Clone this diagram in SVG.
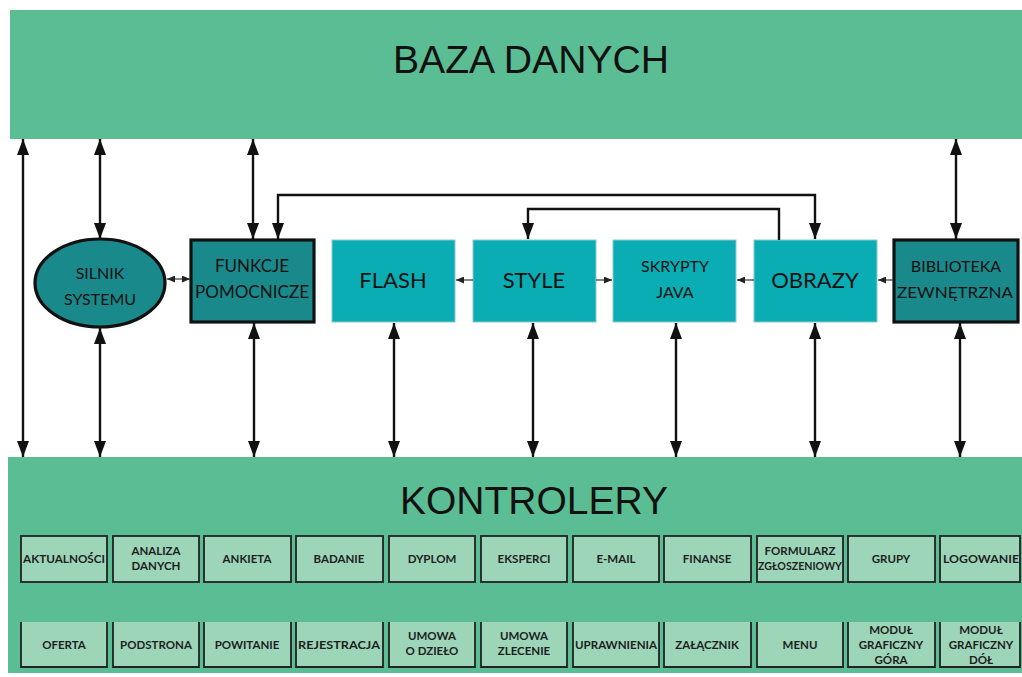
<svg xmlns="http://www.w3.org/2000/svg" width="1022" height="677" viewBox="0 0 1022 677">
  <style>
    .band { fill: #5bbd93; }
    .title { font-family: "Liberation Sans", Arial, sans-serif; font-size: 38px; fill: #111; text-anchor: middle; }
    .dark { fill: #1a898c; stroke: #111; stroke-width: 3.2; }
    .light { fill: #0badb5; stroke: #8cc9c9; stroke-width: 1; }
    .lbl { font-family: Lato, "Noto Sans", sans-serif; fill: #111; text-anchor: middle; }
    .big { font-size: 22px; }
    .mid { font-size: 16px; }
    .ctl rect { fill: #9dd5b9; stroke: #222; stroke-width: 1.8; }
    .ctl path.face { fill: #9dd5b9; stroke: none; }
    .ctl path.edge { fill: none; stroke: #222; stroke-width: 1.8; }
    .ctl text { font-family: Lato, "Noto Sans", sans-serif; font-weight: bold; font-size: 11.5px; fill: #1e1e1e; text-anchor: middle; }
    .wire { fill: none; stroke: #111; stroke-width: 2.4; }
    .thin { fill: none; stroke: #333; stroke-width: 1.2; }
  </style>
  <defs>
    <marker id="head" viewBox="0 0 16 12" refX="16" refY="6" markerWidth="16" markerHeight="12" markerUnits="userSpaceOnUse" orient="auto-start-reverse">
      <path d="M0,0 L16,6 L0,12 Z" fill="#111"/>
    </marker>
    <marker id="tip" viewBox="0 0 8 7" refX="8" refY="3.5" markerWidth="8" markerHeight="7" markerUnits="userSpaceOnUse" orient="auto-start-reverse">
      <path d="M0,0 L8,3.5 L0,7 Z" fill="#222"/>
    </marker>
  </defs>

  <rect width="1022" height="677" fill="#fff"/>

  <!-- database band -->
  <g id="baza-danych">
    <rect class="band" x="10" y="10" width="1012" height="129"/>
    <text class="title" x="531" y="73" textLength="276" lengthAdjust="spacingAndGlyphs">BAZA DANYCH</text>
  </g>

  <!-- controllers band -->
  <g id="kontrolery">
    <rect class="band" x="8" y="457" width="1014" height="216"/>
    <text class="title" x="534" y="514" textLength="268" lengthAdjust="spacingAndGlyphs">KONTROLERY</text>
  </g>

  <!-- middle row -->
  <g id="silnik-systemu">
    <ellipse class="dark" cx="100" cy="283" rx="65" ry="44"/>
    <text class="lbl mid" x="100" y="279">SILNIK</text>
    <text class="lbl mid" x="100" y="305">SYSTEMU</text>
  </g>
  <g id="funkcje-pomocnicze">
    <rect class="dark" x="191" y="240" width="123" height="82"/>
    <text class="lbl" font-size="17" x="252" y="272">FUNKCJE</text>
    <text class="lbl" font-size="17" x="252" y="298" textLength="114" lengthAdjust="spacingAndGlyphs">POMOCNICZE</text>
  </g>
  <g id="flash">
    <rect class="light" x="332" y="240" width="123" height="82"/>
    <text class="lbl big" x="393" y="288">FLASH</text>
  </g>
  <g id="style">
    <rect class="light" x="473" y="240" width="123" height="82"/>
    <text class="lbl big" x="534" y="288">STYLE</text>
  </g>
  <g id="skrypty-java">
    <rect class="light" x="613" y="240" width="123" height="82"/>
    <text class="lbl mid" x="675" y="272">SKRYPTY</text>
    <text class="lbl mid" x="675" y="298">JAVA</text>
  </g>
  <g id="obrazy">
    <rect class="light" x="754" y="240" width="123" height="82"/>
    <text class="lbl big" x="815" y="288">OBRAZY</text>
  </g>
  <g id="biblioteka-zewnetrzna">
    <rect class="dark" x="894" y="240" width="124" height="82"/>
    <text class="lbl" font-size="16" x="956" y="272">BIBLIOTEKA</text>
    <text class="lbl" font-size="16" x="955" y="298" textLength="116" lengthAdjust="spacingAndGlyphs">ZEWNĘTRZNA</text>
  </g>

  <!-- connectors -->
  <g id="connectors">
    <!-- database <-> controllers, direct -->
    <line class="wire" x1="23" y1="139" x2="23" y2="457" marker-start="url(#head)" marker-end="url(#head)"/>
    <!-- database <-> middle row -->
    <line class="wire" x1="100" y1="139" x2="100" y2="239" marker-start="url(#head)" marker-end="url(#head)"/>
    <line class="wire" x1="253" y1="139" x2="253" y2="239" marker-start="url(#head)" marker-end="url(#head)"/>
    <line class="wire" x1="956" y1="139" x2="956" y2="239" marker-start="url(#head)" marker-end="url(#head)"/>
    <!-- middle row <-> controllers -->
    <line class="wire" x1="100" y1="328" x2="100" y2="457" marker-start="url(#head)" marker-end="url(#head)"/>
    <line class="wire" x1="254" y1="323" x2="254" y2="457" marker-start="url(#head)" marker-end="url(#head)"/>
    <line class="wire" x1="394" y1="323" x2="394" y2="457" marker-start="url(#head)" marker-end="url(#head)"/>
    <line class="wire" x1="533" y1="323" x2="533" y2="457" marker-start="url(#head)" marker-end="url(#head)"/>
    <line class="wire" x1="676" y1="323" x2="676" y2="457" marker-start="url(#head)" marker-end="url(#head)"/>
    <line class="wire" x1="815" y1="323" x2="815" y2="457" marker-start="url(#head)" marker-end="url(#head)"/>
    <line class="wire" x1="960" y1="323" x2="960" y2="457" marker-start="url(#head)" marker-end="url(#head)"/>
    <!-- FUNKCJE <-> OBRAZY over the top -->
    <path class="wire" d="M278,239 V195 H815 V239" marker-start="url(#head)" marker-end="url(#head)"/>
    <!-- OBRAZY -> STYLE -->
    <path class="wire" d="M779,240 V209 H528 V239" marker-end="url(#head)"/>
    <!-- row links -->
    <line class="thin" x1="167" y1="279" x2="190" y2="279" marker-start="url(#tip)" marker-end="url(#tip)"/>
    <line class="thin" x1="473" y1="280" x2="456" y2="280" marker-end="url(#tip)"/>
    <line class="thin" x1="596" y1="280" x2="612" y2="280" marker-end="url(#tip)"/>
    <line class="thin" x1="754" y1="280" x2="737" y2="280" marker-end="url(#tip)"/>
    <line class="thin" x1="893" y1="280" x2="878" y2="280" marker-end="url(#tip)"/>
  </g>

  <!-- controller modules, upper row -->
  <g class="ctl">
    <g id="aktualnosci"><rect x="21" y="536" width="86" height="46"/><text x="64" y="563" textLength="82" lengthAdjust="spacingAndGlyphs">AKTUALNOŚCI</text></g>
    <g id="analiza-danych"><rect x="113" y="536" width="86" height="46"/><text x="156" y="555">ANALIZA</text><text x="156" y="570">DANYCH</text></g>
    <g id="ankieta"><rect x="204" y="536" width="87" height="46"/><text x="247" y="563">ANKIETA</text></g>
    <g id="badanie"><rect x="296" y="536" width="87" height="46"/><text x="339" y="563">BADANIE</text></g>
    <g id="dyplom"><rect x="389" y="536" width="86" height="46"/><text x="432" y="563">DYPLOM</text></g>
    <g id="eksperci"><rect x="481" y="536" width="86" height="46"/><text x="524" y="563">EKSPERCI</text></g>
    <g id="e-mail"><rect x="573" y="536" width="86" height="46"/><text x="616" y="563">E-MAIL</text></g>
    <g id="finanse"><rect x="664" y="536" width="87" height="46"/><text x="707" y="563">FINANSE</text></g>
    <g id="formularz"><rect x="757" y="536" width="86" height="46"/><text x="800" y="555">FORMULARZ</text><text x="800" y="570" textLength="84" lengthAdjust="spacingAndGlyphs">ZGŁOSZENIOWY</text></g>
    <g id="grupy"><rect x="848" y="536" width="87" height="46"/><text x="891" y="563">GRUPY</text></g>
    <g id="logowanie"><rect x="940" y="536" width="80" height="46"/><text x="981" y="563" textLength="76" lengthAdjust="spacingAndGlyphs">LOGOWANIE</text></g>
  </g>

  <!-- controller modules, lower row (open at the top) -->
  <g class="ctl">
    <g id="oferta"><path class="face" d="M21,622 V667 H107 V622 Z"/><path class="edge" d="M21,622 V667 H107 V622"/><text x="64" y="649">OFERTA</text></g>
    <g id="podstrona"><path class="face" d="M113,622 V667 H199 V622 Z"/><path class="edge" d="M113,622 V667 H199 V622"/><text x="156" y="649">PODSTRONA</text></g>
    <g id="powitanie"><path class="face" d="M204,622 V667 H291 V622 Z"/><path class="edge" d="M204,622 V667 H291 V622"/><text x="247" y="649">POWITANIE</text></g>
    <g id="rejestracja"><path class="face" d="M296,622 V667 H383 V622 Z"/><path class="edge" d="M296,622 V667 H383 V622"/><text x="339" y="649" textLength="82" lengthAdjust="spacingAndGlyphs">REJESTRACJA</text></g>
    <g id="umowa-o-dzielo"><path class="face" d="M389,622 V667 H475 V622 Z"/><path class="edge" d="M389,622 V667 H475 V622"/><text x="432" y="640">UMOWA</text><text x="432" y="655">O DZIEŁO</text></g>
    <g id="umowa-zlecenie"><path class="face" d="M481,622 V667 H567 V622 Z"/><path class="edge" d="M481,622 V667 H567 V622"/><text x="524" y="640">UMOWA</text><text x="524" y="655">ZLECENIE</text></g>
    <g id="uprawnienia"><path class="face" d="M573,622 V667 H659 V622 Z"/><path class="edge" d="M573,622 V667 H659 V622"/><text x="616" y="649" textLength="82" lengthAdjust="spacingAndGlyphs">UPRAWNIENIA</text></g>
    <g id="zalacznik"><path class="face" d="M664,622 V667 H751 V622 Z"/><path class="edge" d="M664,622 V667 H751 V622"/><text x="707" y="649">ZAŁĄCZNIK</text></g>
    <g id="menu"><path class="face" d="M757,622 V667 H843 V622 Z"/><path class="edge" d="M757,622 V667 H843 V622"/><text x="800" y="649">MENU</text></g>
    <g id="modul-graficzny-gora"><path class="face" d="M848,622 V667 H935 V622 Z"/><path class="edge" d="M848,622 V667 H935 V622"/><text x="891" y="634">MODUŁ</text><text x="891" y="649">GRAFICZNY</text><text x="891" y="664">GÓRA</text></g>
    <g id="modul-graficzny-dol"><path class="face" d="M940,622 V667 H1020 V622 Z"/><path class="edge" d="M940,622 V667 H1020 V622"/><text x="981" y="634">MODUŁ</text><text x="981" y="649">GRAFICZNY</text><text x="981" y="664">DÓŁ</text></g>
  </g>
</svg>
